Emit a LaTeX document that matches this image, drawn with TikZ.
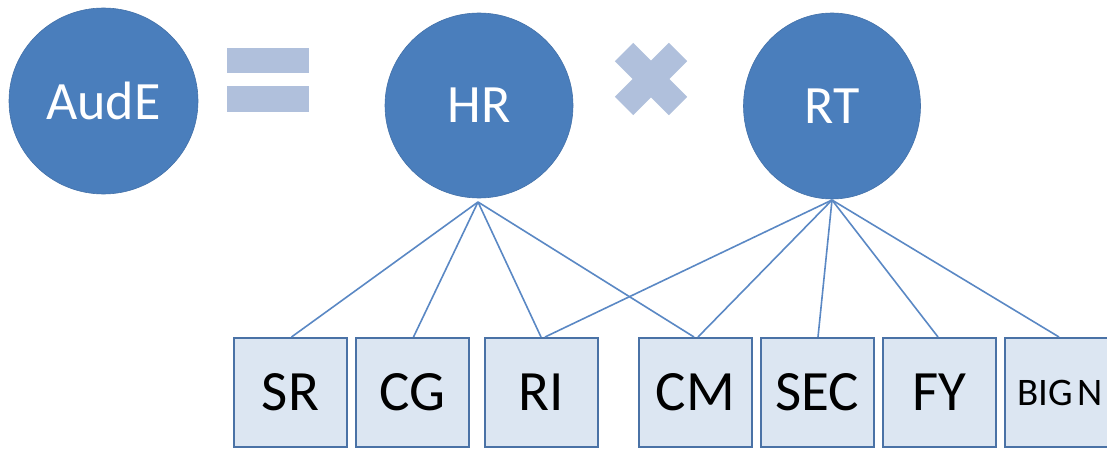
\documentclass[tikz,border=0pt]{standalone}
\usepackage{fontspec}
\setmainfont{Carlito}
\usetikzlibrary{shapes.geometric}
\definecolor{circblue}{HTML}{4A7EBC}
\definecolor{linblue}{HTML}{5A88C4}
\definecolor{boxfill}{HTML}{DCE6F2}
\definecolor{boxedge}{HTML}{4A72A6}
\definecolor{opcol}{HTML}{B0C0DC}
\tikzset{
  bigcirc/.style={ellipse, fill=circblue, draw=circblue!90!black, line width=0.6pt, inner sep=0pt, text=white, font=\fontsize{54}{54}\selectfont},
  leafbox/.style={rectangle, fill=boxfill, draw=boxedge, line width=2pt, minimum width=113pt, minimum height=109pt, inner sep=0pt, anchor=north west, font=\fontsize{57}{57}\selectfont},
  conn/.style={draw=linblue, line width=1.6pt},
  opbar/.style={fill=opcol},
}
\begin{document}
\begin{tikzpicture}[x=1pt,y=-1pt]
\useasboundingbox (0,0) rectangle (1107,449);
% circles
\node[bigcirc, minimum width=189pt, minimum height=186pt] (aude) at (103.5,101) {AudE};
\node[bigcirc, minimum width=188pt, minimum height=185pt] (hr) at (479,105.5) {HR};
\node[bigcirc, minimum width=177pt, minimum height=186pt] (rt) at (832,106) {RT};
% operators
\fill[opbar] (227,48) rectangle (309,73);
\fill[opbar] (227,86) rectangle (309,112);
\draw[opcol, line width=26pt] (651,79) ++(-27,-27) -- ++(54,54);
\draw[opcol, line width=26pt] (651,79) ++(27,-27) -- ++(-54,54);
% boxes
\node[leafbox] (sr) at (233,337) {SR};
\node[leafbox] (cg) at (355,337) {CG};
\node[leafbox] (ri) at (484,337) {RI};
\node[leafbox] (cm) at (638,337) {CM};
\node[leafbox] (sec) at (760,337) {SEC};
\node[leafbox] (fy) at (882,337) {FY};
\node[leafbox, font=\fontsize{39}{39}\selectfont, text width=89pt, align=left] (bign) at (1004,337) {\mbox{BIG\hspace{0.13em}N}};
% apexes
\coordinate (hra) at (478,202);
\coordinate (rta) at (832,200);
% connectors
\draw[conn] (hra) -- ([xshift=1pt]sr.north);
\draw[conn] (hra) -- ([xshift=1pt]cg.north);
\draw[conn] (hra) -- ([xshift=-0.5pt]ri.north);
\draw[conn] (hra) -- ([xshift=-1.5pt]cm.north);
\draw[conn] (rta) -- ([xshift=3.5pt]ri.north);
\draw[conn] (rta) -- ([xshift=2.5pt]cm.north);
\draw[conn] (rta) -- ([xshift=0.5pt]sec.north);
\draw[conn] (rta) -- ([xshift=-1.5pt]fy.north);
\draw[conn] (rta) -- ([xshift=-2.5pt]bign.north);
\end{tikzpicture}
\end{document}
